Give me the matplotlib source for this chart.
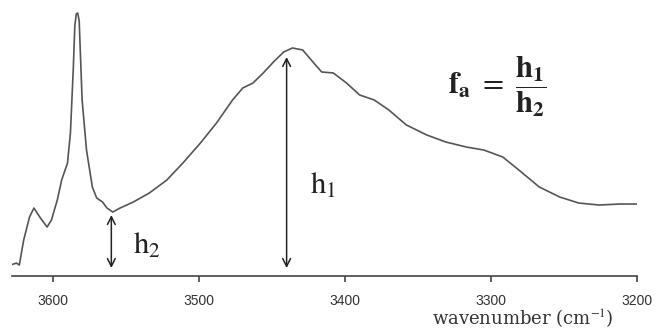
import matplotlib
matplotlib.use("Agg")
import matplotlib.pyplot as plt

# OH-stretch region of the IR spectrum (absorbance in arbitrary units)
wavenumber = [3629, 3625, 3623, 3620, 3616, 3613, 3609, 3604, 3601, 3597,
              3594, 3590, 3588, 3586, 3585, 3584, 3583, 3582, 3580, 3577,
              3573, 3570, 3566, 3563, 3559, 3554, 3545, 3534, 3522, 3511,
              3499, 3488, 3477, 3470, 3463, 3456, 3449, 3442, 3436, 3429,
              3422, 3416, 3408, 3399, 3390, 3380, 3370, 3358, 3344, 3331,
              3317, 3305, 3292, 3281, 3267, 3253, 3240, 3226, 3212, 3199]
absorbance = [11, 13, 11, 36, 59, 68, 59, 49, 56, 76,
              96, 113, 143, 209, 250, 262, 263, 255, 176, 126,
              89, 78, 74, 68, 64, 68, 74, 83, 96, 113,
              133, 153, 176, 188, 193, 203, 214, 224, 228, 226,
              214, 204, 203, 193, 181, 176, 166, 151, 141, 134,
              129, 126, 119, 106, 89, 79, 73, 71, 72, 72]

xticks = [3600, 3500, 3400, 3300, 3200]

# h1: band maximum, h2: minimum between the free-OH peak and the broad band
h1_pos, h1_top = 3440, 219
h2_pos, h2_top = 3560, 61
arrow_base = 8

plt.rcParams["mathtext.fontset"] = "stix"

fig = plt.figure(figsize=(6.56, 3.31), dpi=100)
ax = fig.add_axes([0.0183, 0.166, 0.953, 0.819])

ax.plot(wavenumber, absorbance, color="#555555", lw=1.2)

arrow = dict(arrowstyle="<->", color="#222222", lw=1.1,
             mutation_scale=14, shrinkA=0, shrinkB=0)
ax.annotate("", xy=(h1_pos, h1_top), xytext=(h1_pos, arrow_base),
            arrowprops=arrow)
ax.annotate("", xy=(h2_pos, h2_top), xytext=(h2_pos, arrow_base),
            arrowprops=arrow)

ax.text(3424, 91, r"$\mathrm{h}_1$", fontsize=22, va="center", ha="left",
        color="#222222")
ax.text(3545, 31, r"$\mathrm{h}_2$", fontsize=22, va="center", ha="left",
        color="#222222")
ax.text(3296, 189, r"$\mathbf{f_a}\ =\ \dfrac{\mathbf{h_1}}{\mathbf{h_2}}$",
        fontsize=22, va="center", ha="center", color="#222222")

ax.set_xlim(3628, 3200)
ax.set_ylim(0, 271)
for side in ("left", "right", "top"):
    ax.spines[side].set_visible(False)
ax.spines["bottom"].set_color("#444444")
ax.spines["bottom"].set_linewidth(1.2)
ax.set_yticks([])
ax.set_xticks(xticks)
ax.tick_params(axis="x", direction="out", length=4, width=1.2,
               color="#444444", pad=9, labelsize=10, labelcolor="#333333")
for lbl in ax.get_xticklabels():
    lbl.set_family("Liberation Sans")

fig.text(0.797, 0.038, "wavenumber (cm$^{-1}$)", fontsize=13, ha="center",
         va="center", family="DejaVu Serif", color="#333333")

fig.savefig("out.png", dpi=100)
